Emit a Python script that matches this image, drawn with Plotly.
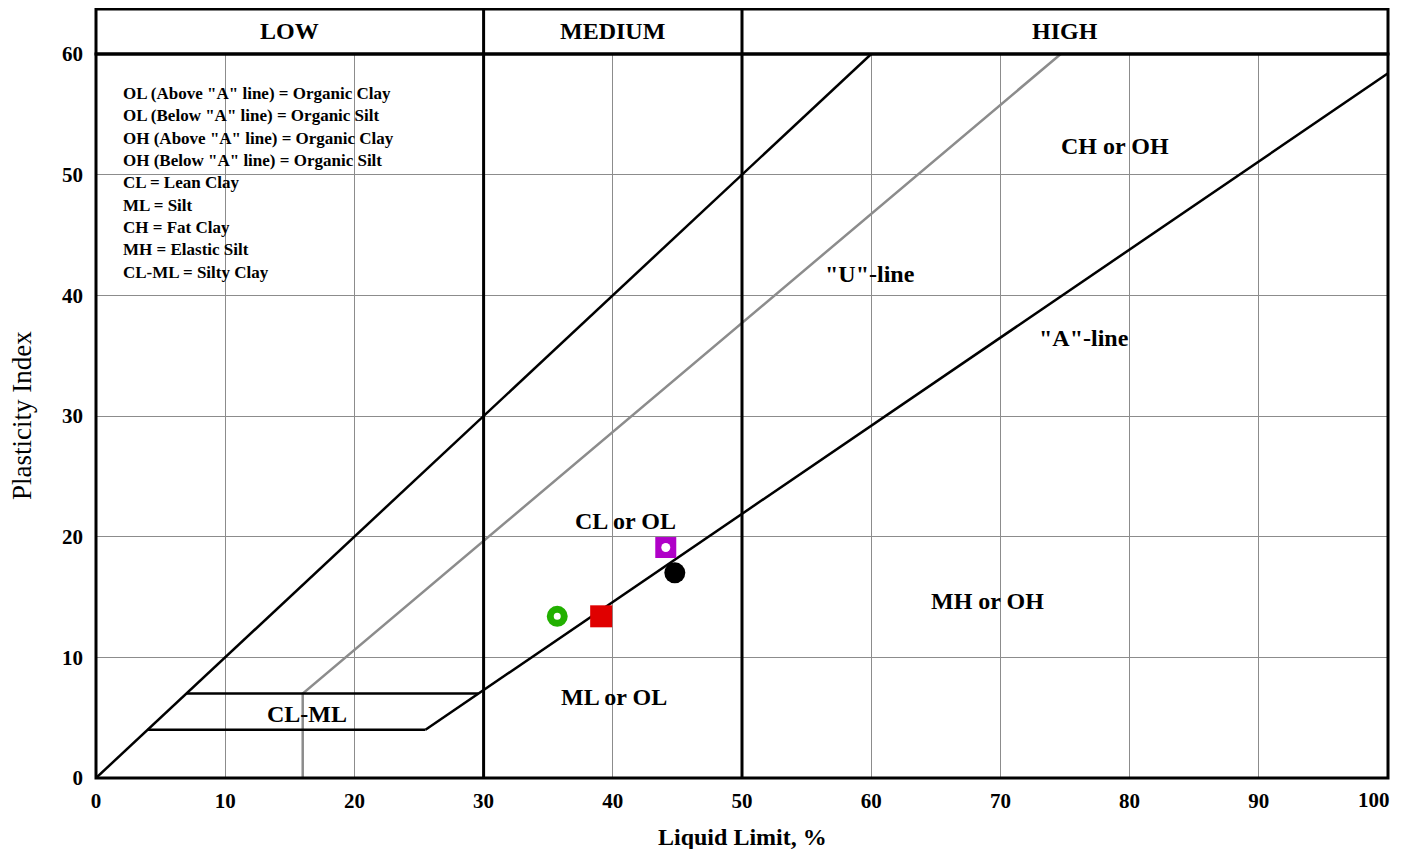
import plotly.graph_objects as go

# ---- data ----
upper_ll = [0, 60]
upper_pi = [0, 60]
u_line_ll = [16, 16, 74.67]
u_line_pi = [0, 7, 60]
a_line_ll = [25.5, 100]
a_line_pi = [4, 58.4]
clml_low_ll = [4, 25.5]
clml_low_pi = [4, 4]
clml_high_ll = [7, 29.6]
clml_high_pi = [7, 7]

samples_ll = [35.7, 39.1, 44.1, 44.8]
samples_pi = [13.4, 13.4, 19.1, 17.0]

zone_labels = ['CH or OH', '"U"-line', '"A"-line', 'CL or OL', 'MH or OH', 'ML or OL', 'CL-ML']
zone_ll = [78.9, 59.9, 76.5, 41.0, 69.0, 40.1, 16.3]
zone_pi = [52.4, 41.8, 36.5, 21.3, 14.7, 6.7, 5.3]

legend_lines = [
    'OL (Above "A" line) = Organic Clay',
    'OL (Below "A" line) = Organic Silt',
    'OH (Above "A" line) = Organic Clay',
    'OH (Below "A" line) = Organic Silt',
    'CL = Lean Clay',
    'ML = Silt',
    'CH = Fat Clay',
    'MH = Elastic Silt',
    'CL-ML = Silty Clay',
]

bands = ['LOW', 'MEDIUM', 'HIGH']
band_edges = [0, 30, 50, 100]

x_ticks = [0, 10, 20, 30, 40, 50, 60, 70, 80, 90, 100]
x_tick_text = ['0', '10', '20', '30', '40', '50', '60', '70', '80', '90', '100']
y_ticks = [0, 10, 20, 30, 40, 50, 60]

FONT = "Liberation Serif"
TICKFONT = dict(family=FONT, size=21, weight="bold", color="black")

fig = go.Figure()

def line(x, y, color="black", width=2.5):
    fig.add_trace(go.Scatter(x=x, y=y, mode="lines", line=dict(color=color, width=width),
                             hoverinfo="skip", showlegend=False))

line(upper_ll, upper_pi)
line(u_line_ll, u_line_pi, color="#8c8c8c", width=2.5)
line(a_line_ll, a_line_pi)
line(clml_low_ll, clml_low_pi)
line(clml_high_ll, clml_high_pi)

# samples
fig.add_trace(go.Scatter(x=[samples_ll[0]], y=[samples_pi[0]], mode="markers",
                         marker=dict(symbol="circle-open", size=14, color="#22b000", line=dict(width=7, color="#22b000")),
                         showlegend=False))
fig.add_trace(go.Scatter(x=[samples_ll[1]], y=[samples_pi[1]], mode="markers",
                         marker=dict(symbol="square", size=22, color="#e00000", line=dict(width=0)),
                         showlegend=False))
fig.add_trace(go.Scatter(x=[samples_ll[2]], y=[samples_pi[2]], mode="markers",
                         marker=dict(symbol="square", size=21, color="#b000c8", line=dict(width=0)),
                         showlegend=False))
fig.add_trace(go.Scatter(x=[samples_ll[2]], y=[samples_pi[2]], mode="markers",
                         marker=dict(symbol="circle", size=9, color="white", line=dict(width=0)),
                         showlegend=False))
fig.add_trace(go.Scatter(x=[samples_ll[3]], y=[samples_pi[3]], mode="markers",
                         marker=dict(symbol="circle", size=21, color="black", line=dict(width=0)),
                         showlegend=False))

annotations = []
for t, x, y in zip(zone_labels, zone_ll, zone_pi):
    annotations.append(dict(x=x, y=y, text=t, showarrow=False, xref="x", yref="y",
                            font=dict(family=FONT, size=24, color="black", weight="bold")))

for i, t in enumerate(legend_lines):
    annotations.append(dict(x=1.95, y=56.75 - i * 1.856, text=t, showarrow=False, xref="x", yref="y",
                            xanchor="left", yanchor="middle",
                            font=dict(family=FONT, size=17, color="black", weight="bold")))

HEAD = 45 / 724.0
for i, b in enumerate(bands):
    annotations.append(dict(x=(band_edges[i] + band_edges[i + 1]) / 2, y=1 + 46 / 724.0 / 2, text=b,
                            showarrow=False, xref="x", yref="paper", yanchor="middle",
                            font=dict(family=FONT, size=24, color="black", weight="bold")))

# last x tick label kept inside the figure (right-aligned at the axis end)
annotations.append(dict(x=x_ticks[-1], y=0, xref="x", yref="paper", text=x_tick_text[-1], showarrow=False,
                        xanchor="right", yanchor="middle", xshift=4, yshift=-22, font=TICKFONT))
axis_tick_text = x_tick_text[:-1] + [""]

# axis titles
annotations.append(dict(x=0.5, y=0, xref="paper", yref="paper", text="Liquid Limit, %", showarrow=False,
                        yanchor="middle", yshift=-59,
                        font=dict(family=FONT, size=24, color="black", weight="bold")))
annotations.append(dict(x=0, y=0.5, xref="paper", yref="paper", text="Plasticity Index", showarrow=False,
                        xanchor="center", textangle=-90, xshift=-74,
                        font=dict(family=FONT, size=27, color="black")))

shapes = []
# header box
shapes.append(dict(type="rect", xref="paper", yref="paper", x0=0, x1=1, y0=1, y1=1 + HEAD,
                   line=dict(color="black", width=3)))
# band dividers
for e in band_edges[1:-1]:
    shapes.append(dict(type="line", xref="x", yref="paper", x0=e, x1=e, y0=0, y1=1 + HEAD,
                       line=dict(color="black", width=3)))
# plot border
shapes.append(dict(type="rect", xref="paper", yref="paper", x0=0, x1=1, y0=0, y1=1,
                   line=dict(color="black", width=3)))

fig.update_layout(
    width=1390, height=841,
    margin=dict(l=88, r=10, t=46, b=71),
    paper_bgcolor="white", plot_bgcolor="white",
    annotations=annotations, shapes=shapes,
    showlegend=False,
    font=dict(family=FONT, color="black"),
)
fig.update_xaxes(range=[0, 100], tickvals=x_ticks, ticktext=axis_tick_text, showgrid=True, gridcolor="#8c8c8c", gridwidth=1,
                 zeroline=False, showline=False, ticks="", automargin=False, ticklabelstandoff=8,
                 ticklabeloverflow="allow", tickfont=TICKFONT)
fig.update_yaxes(range=[0, 60], tickvals=y_ticks, showgrid=True, gridcolor="#8c8c8c", gridwidth=1,
                 zeroline=False, showline=False, ticks="", automargin=False, ticklabelstandoff=12,
                 ticklabeloverflow="allow", tickfont=TICKFONT)

fig.write_html("out.html")
